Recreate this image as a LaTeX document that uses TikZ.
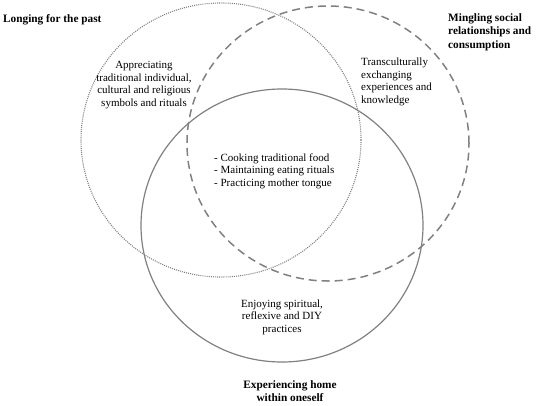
\documentclass[tikz,border=0pt]{standalone}
\usepackage{fontspec}
\setmainfont{Liberation Serif}
\usetikzlibrary{positioning}

\begin{document}
\begin{tikzpicture}[x=1pt,y=-1pt]
  %% DIAGRAMME DE VENN

  \tikzstyle{every node}=[font=\fontsize{11}{12.5}\selectfont, inner sep=0pt]
  \tikzstyle{ring}=[draw=black!50, line width=1.2pt]
  \tikzstyle{title}=[font=\fontsize{11.3}{13.5}\selectfont\bfseries]
  \tikzstyle{practice}=[align=center]
  \useasboundingbox (0,0) rectangle (538,405);

  % les trois cercles
  \draw[ring, line width=1.1pt, dash pattern=on 1pt off 1.1pt]
  (221,140) ellipse [x radius=140pt, y radius=137pt];
  \draw[ring, line width=1.5pt, dash pattern=on 8pt off 5pt]
  (328,143.5) ellipse [x radius=141pt, y radius=137.5pt];
  \draw[ring] (282,225.5) ellipse [x radius=141pt, y radius=136.5pt];

  % titres
  \node[title, anchor=west] (past) at (3,20) {Longing for the past};
  \node[title, anchor=west, align=left] (social) at (448,32)
  {Mingling social\\relationships and\\consumption};
  \node[title, align=center] (home) at (290,391)
  {Experiencing home\\within oneself};

  % pratiques
  \node[practice] (symbols) at (144,85)
  {Appreciating\\traditional individual,\\cultural and religious\\symbols and rituals};
  \node[practice, anchor=west, align=left] (exchange) at (361,82)
  {Transculturally\\exchanging\\experiences and\\knowledge};
  \node[practice, anchor=west, align=left] (food) at (214,171)
  {- Cooking traditional food\\- Maintaining eating rituals\\- Practicing mother tongue};
  \node[practice] (diy) at (282,317)
  {Enjoying spiritual,\\reflexive and DIY\\practices};
\end{tikzpicture}
\end{document}
